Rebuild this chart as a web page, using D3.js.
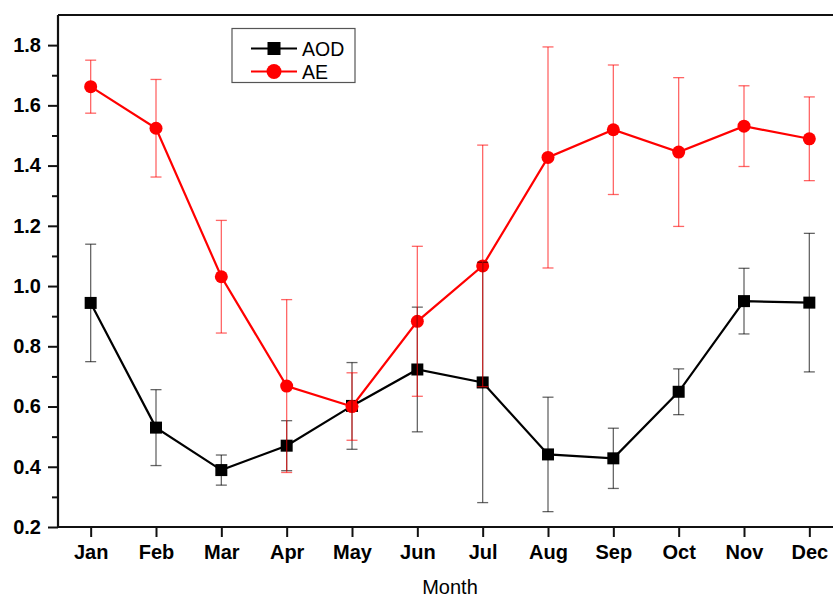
<!DOCTYPE html>
<html><head><meta charset="utf-8">
<script src="https://cdn.jsdelivr.net/npm/d3@7"></script>
<style>body{margin:0;background:#fff;} svg{display:block;}</style>
</head><body>
<script>
const months = ["Jan","Feb","Mar","Apr","May","Jun","Jul","Aug","Sep","Oct","Nov","Dec"];
const aod    = [0.944,0.530,0.389,0.470,0.602,0.723,0.680,0.441,0.428,0.649,0.950,0.945];
const aodErr = [0.195,0.126,0.050,0.083,0.144,0.207,0.399,0.190,0.100,0.076,0.109,0.230];
const ae     = [1.662,1.524,1.031,0.668,0.600,0.883,1.067,1.427,1.519,1.445,1.531,1.489];
const aeErr  = [0.088,0.162,0.187,0.287,0.112,0.249,0.401,0.367,0.215,0.247,0.134,0.139];
const yTicks = [0.2,0.4,0.6,0.8,1.0,1.2,1.4,1.6,1.8];
const yMinor = [0.3,0.5,0.7,0.9,1.1,1.3,1.5,1.7];

const W = 833, H = 596;
const pL = 58, pR = 842, pT = 15, pB = 527;
const svg = d3.select("body").append("svg").attr("width", W).attr("height", H);
const font = "'Liberation Sans', Arial, sans-serif";

const x = d3.scaleLinear().domain([0.5, 12.5]).range([pL, pR]);
const y = d3.scaleLinear().domain([0.2, 1.9]).range([pB, pT]);

// top border
svg.append("line").attr("x1", pL).attr("x2", pR).attr("y1", pT).attr("y2", pT)
  .attr("stroke", "#111").attr("stroke-width", 2.2);

// y axis
const yAxis = svg.append("g").attr("transform", `translate(${pL},0)`)
  .call(d3.axisLeft(y).tickValues(yTicks).tickFormat(d3.format(".1f")).tickSize(10).tickPadding(7));
yAxis.select(".domain").attr("stroke", "#111").attr("stroke-width", 2.2).attr("d", `M0,${pB}V${pT}`);
yAxis.selectAll(".tick line").attr("stroke", "#111").attr("stroke-width", 2);
yAxis.selectAll(".tick text").attr("font-family", font).attr("font-weight", "bold")
  .attr("font-size", 20).attr("fill", "#000");
svg.append("g").attr("transform", `translate(${pL},0)`)
  .call(d3.axisLeft(y).tickValues(yMinor).tickFormat("").tickSize(6))
  .call(g => { g.select(".domain").remove(); g.selectAll(".tick line").attr("stroke", "#111").attr("stroke-width", 2); });

// x axis
const xAxis = svg.append("g").attr("transform", `translate(0,${pB})`)
  .call(d3.axisBottom(x).tickValues(d3.range(1, 13)).tickFormat(d => months[d - 1]).tickSize(10).tickPadding(8));
xAxis.select(".domain").attr("stroke", "#111").attr("stroke-width", 2.2).attr("d", `M${pL},0H${pR}`);
xAxis.selectAll(".tick line").attr("stroke", "#111").attr("stroke-width", 2);
xAxis.selectAll(".tick text").attr("font-family", font).attr("font-weight", "bold")
  .attr("font-size", 20).attr("fill", "#000");

svg.append("text").attr("x", (pL + pR) / 2).attr("y", 593.5).attr("text-anchor", "middle")
  .attr("font-family", font).attr("font-size", 20).attr("fill", "#000").text("Month");

function series(vals, color, shape) {
  const line = d3.line().x((d, i) => x(i + 1)).y(d => y(d));
  svg.append("path").datum(vals).attr("d", line).attr("fill", "none")
    .attr("stroke", color).attr("stroke-width", 2.2);
  const g = svg.append("g");
  vals.forEach((v, i) => {
    if (shape === "square") {
      g.append("rect").attr("x", x(i + 1) - 6).attr("y", y(v) - 6).attr("width", 12).attr("height", 12).attr("fill", color);
    } else {
      g.append("circle").attr("cx", x(i + 1)).attr("cy", y(v)).attr("r", 6.5).attr("fill", color);
    }
  });
}
function errors(vals, errs, color) {
  const g = svg.append("g").attr("stroke", color).attr("stroke-width", 1.3);
  vals.forEach((v, i) => {
    const cx = x(i + 1), y1 = y(v + errs[i]), y2 = y(v - errs[i]);
    g.append("line").attr("x1", cx).attr("x2", cx).attr("y1", y1).attr("y2", y2);
    g.append("line").attr("x1", cx - 5.5).attr("x2", cx + 5.5).attr("y1", y1).attr("y2", y1);
    g.append("line").attr("x1", cx - 5.5).attr("x2", cx + 5.5).attr("y1", y2).attr("y2", y2);
  });
}
series(aod, "#000", "square");
series(ae, "#ff0000", "circle");
errors(aod, aodErr, "rgba(0,0,0,0.6)");
errors(ae, aeErr, "rgba(255,0,0,0.6)");

// legend
const lg = svg.append("g");
lg.append("rect").attr("x", 232).attr("y", 28.5).attr("width", 123).attr("height", 54)
  .attr("fill", "#fff").attr("stroke", "#555").attr("stroke-width", 1.2);
const items = [{name: "AOD", color: "#000", shape: "square", yy: 48.5}, {name: "AE", color: "#ff0000", shape: "circle", yy: 71.5}];
items.forEach(it => {
  lg.append("line").attr("x1", 251).attr("x2", 297).attr("y1", it.yy).attr("y2", it.yy)
    .attr("stroke", it.color).attr("stroke-width", 2);
  if (it.shape === "square") lg.append("rect").attr("x", 274 - 6.5).attr("y", it.yy - 6.5).attr("width", 13).attr("height", 13).attr("fill", it.color);
  else lg.append("circle").attr("cx", 274).attr("cy", it.yy).attr("r", 7.5).attr("fill", it.color);
  lg.append("text").attr("x", 302).attr("y", it.yy + 7).attr("font-family", font).attr("font-size", 19.5)
    .attr("fill", "#000").text(it.name);
});
</script>
</body></html>
